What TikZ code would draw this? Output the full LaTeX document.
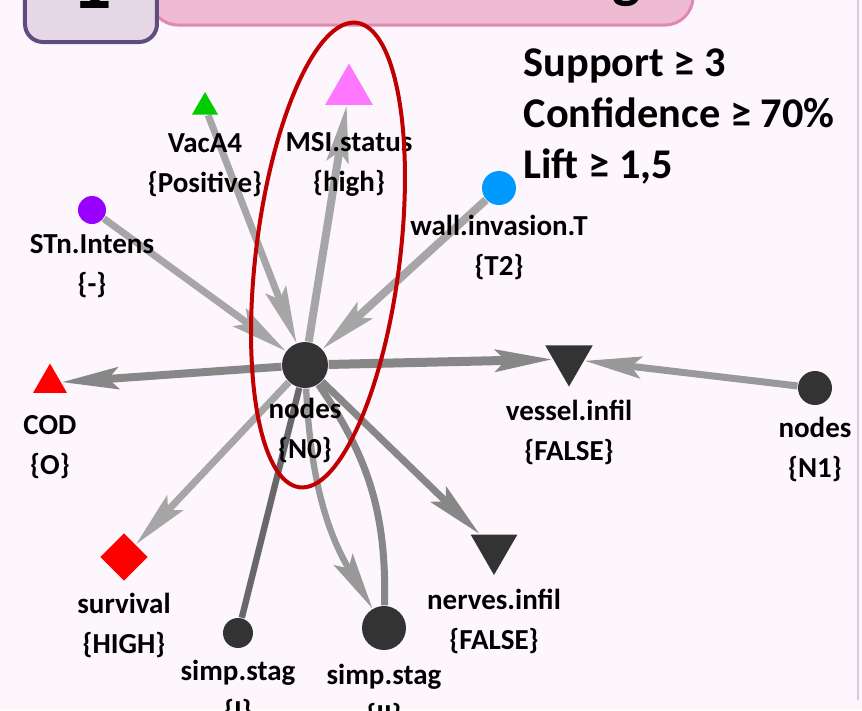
\documentclass[tikz,border=0pt]{standalone}
\usepackage{fontspec}
\setmainfont{Carlito}
\usetikzlibrary{shapes.geometric,arrows.meta,backgrounds}

\definecolor{bgpink}{HTML}{FDF7FD}
\definecolor{bannerpink}{HTML}{EEBBD3}
\definecolor{bannerline}{HTML}{E087B2}
\definecolor{boxlilac}{HTML}{E5D7E6}
\definecolor{boxpurple}{HTML}{604C80}
\definecolor{edgeline}{HTML}{D2C9E2}
\definecolor{hubgray}{HTML}{333333}
\definecolor{msipink}{HTML}{FF77FF}
\definecolor{vacgreen}{HTML}{00CC00}
\definecolor{stnpurple}{HTML}{9900FF}
\definecolor{wallblue}{HTML}{0099FF}
\definecolor{codred}{HTML}{FF0000}
\definecolor{ringred}{HTML}{C00000}
\definecolor{edgelight}{HTML}{A6A6A6}
\definecolor{edgesoft}{HTML}{999999}
\definecolor{edgemid}{HTML}{878787}
\definecolor{edgedark}{HTML}{686868}

\tikzset{
  lbl/.style={font=\bfseries\fontsize{8.7}{12}\selectfont, align=center, inner sep=0pt},
  dot/.style={circle, fill=hubgray, inner sep=0pt, minimum size=#1},
  tri/.style={regular polygon, regular polygon sides=3, inner sep=0pt, minimum size=#1},
  link/.style={line width=2.1pt, -{Stealth[length=17pt,width=6.5pt,inset=3pt]}},
  plain/.style={line width=1.9pt}
}

\begin{document}
\begin{tikzpicture}[x=0.3pt, y=-0.3pt]
  \useasboundingbox (0,0) rectangle (862,710);
  \clip (0,0) rectangle (862,710);

  % header, cut off at the top
  \draw[fill=bannerpink, draw=bannerline, line width=0.9pt, rounded corners=8.4pt] (150,-60) rectangle (693,25);
  \draw[fill=boxlilac, draw=boxpurple, line width=1.2pt, rounded corners=5.4pt] (25,-60) rectangle (157,42);
  \node[anchor=base, font=\bfseries\fontsize{24}{24}\selectfont] (num) at (92,8) {1};
  \node[anchor=base, font=\bfseries\fontsize{18}{18}\selectfont] (ttl) at (627,-4) {g};
  \draw[edgeline, line width=0.6pt] (858,0) -- (858,700);

  % items and rule hub
  \node[dot=13.8pt] (n0) at (305,365) {};
  \node[tri=16.5pt, fill=msipink] (msi) at (349,91) {};
  \node[tri=9pt, fill=vacgreen] (vac) at (205,107) {};
  \node[dot=8.4pt, fill=stnpurple] (stn) at (92,210) {};
  \node[dot=10.2pt, fill=wallblue] (wall) at (499,188) {};
  \node[tri=11.7pt, fill=codred] (cod) at (50,383) {};
  \node[diamond, fill=codred, inner sep=0pt, minimum size=14.4pt] (surv) at (124,557) {};
  \node[dot=9pt] (simpi) at (238,633) {};
  \node[dot=13.2pt] (simpii) at (384,628) {};
  \node[tri=16.2pt, shape border rotate=180, fill=hubgray] (nerv) at (494,548) {};
  \node[tri=16.5pt, shape border rotate=180, fill=hubgray] (vess) at (569,359) {};
  \node[dot=10.2pt] (n1) at (815,388) {};

  \node[lbl] (n0-l) at (305,430) {nodes\\\{N0\}};
  \node[lbl] (msi-l) at (349,164) {MSI.status\\\{high\}};
  \node[lbl] (vac-l) at (205,165) {VacA4\\\{Positive\}};
  \node[lbl] (stn-l) at (92,266) {STn.Intens\\\{-\}};
  \node[lbl] (wall-l) at (499,247) {wall.invasion.T\\\{T2\}};
  \node[lbl] (cod-l) at (50,447) {COD\\\{O\}};
  \node[lbl] (surv-l) at (124,625) {survival\\\{HIGH\}};
  \node[lbl] (simpi-l) at (238,692) {simp.stag\\\{I\}};
  \node[lbl] (simpii-l) at (384,696) {simp.stag\\\{II\}};
  \node[lbl] (nerv-l) at (494,621) {nerves.infil\\\{FALSE\}};
  \node[lbl] (vess-l) at (569,432) {vessel.infil\\\{FALSE\}};
  \node[lbl] (n1-l) at (815,449) {nodes\\\{N1\}};

  \node[font=\bfseries\fontsize{12.7}{15.3}\selectfont, align=left, anchor=west, inner sep=0pt] (rules) at (523,116)
    {Support ≥ 3\\Confidence ≥ 70\%\\Lift ≥ 1,5};

  \begin{pgfonlayer}{background}
    \fill[bgpink] (0,0) rectangle (862,710);
    \draw[link, edgelight] (stn) -- (n0);
    \draw[link, edgelight] (vac) -- (n0);
    \draw[link, edgelight, line width=2.4pt] (n0) -- (msi);
    \draw[link, edgelight, line width=2.4pt] (wall) -- (n0);
    \draw[link, edgemid, line width=2.4pt] (n0) -- (cod);
    \draw[link, edgemid, line width=2.7pt] (n0) -- (vess);
    \draw[link, edgesoft] (n1) -- (vess);
    \draw[link, edgelight] (n0) -- (surv);
    \draw[link, edgemid] (n0) -- (nerv);
    \draw[plain, edgedark] (simpi) -- (n0);
    \draw[link, edgesoft, line width=1.9pt] (n0) to[bend right=14] (simpii);
    \draw[plain, edgemid, line width=2.1pt] (simpii) to[bend right=18] (n0);
  \end{pgfonlayer}

  \draw[ringred, line width=1.2pt, rotate around={-7:(328,255)}] (328,255) ellipse [x radius=72, y radius=234];
\end{tikzpicture}
\end{document}
